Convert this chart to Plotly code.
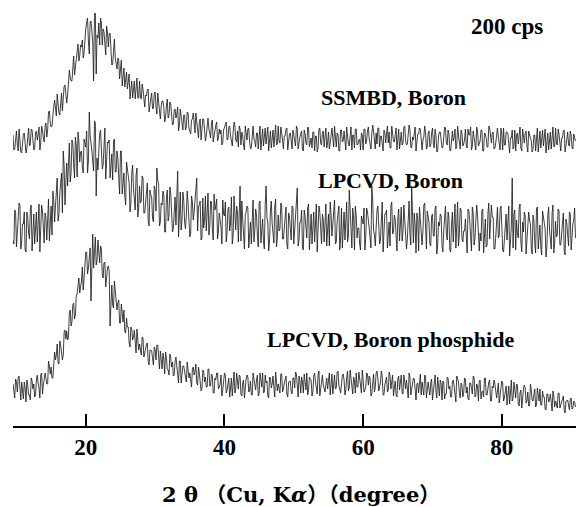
import numpy as np
import plotly.graph_objects as go

# 2-theta sampling (degrees)
TWO_THETA_START = 9.5
TWO_THETA_STEP = 0.125

# Intensities (arb. units, stacked display scale), one row per 5 degrees
ssmbd_boron = [
    291,276,277,292,295,281,275,297,287,274,273,287,292,293,286,273,278,291,298,280,282,297,296,286,276,278,293,295,286,291,299,276,283,300,296,288,284,300,303,289,
    296,314,315,303,299,300,315,319,326,317,310,332,321,313,311,329,333,315,326,340,341,332,323,331,347,356,348,345,345,364,370,351,360,371,376,382,365,370,381,379,
    386,368,373,392,398,403,408,385,372,404,405,395,384,345,412,413,352,391,388,403,381,408,403,381,397,394,379,371,400,393,379,392,393,372,361,362,379,387,368,364,
    357,368,366,347,357,366,340,348,358,339,350,354,337,346,352,327,337,345,328,338,345,327,339,348,328,328,345,329,327,342,337,323,319,331,330,336,337,314,322,329,
    333,317,318,332,334,319,312,333,323,309,307,320,325,325,318,304,308,320,327,308,310,324,322,311,301,302,316,317,308,312,319,295,301,317,311,302,296,311,311,296,
    299,314,313,298,293,292,306,307,313,301,293,313,302,291,288,304,307,286,295,307,307,295,285,290,303,308,297,291,288,303,306,284,291,298,301,304,285,288,297,292,
    296,281,283,296,299,301,304,286,287,299,300,290,282,280,293,304,301,286,284,295,279,300,297,281,294,291,281,276,300,295,286,297,298,284,277,278,293,300,287,285,
    279,293,293,277,289,300,276,286,297,280,292,298,282,292,299,275,286,295,278,289,296,279,291,301,281,282,300,285,283,299,294,281,277,290,290,297,298,276,284,292,
    293,280,277,296,291,284,280,300,297,277,285,289,292,295,276,275,296,292,283,281,299,298,279,286,288,278,294,294,275,290,290,274,278,297,298,283,281,293,295,279,
    290,298,278,283,294,277,283,293,298,288,279,300,288,279,293,292,275,275,296,296,284,285,295,280,276,299,289,282,280,295,299,276,291,291,278,297,297,281,282,286,
    287,276,293,291,276,297,297,282,285,295,299,287,280,277,292,301,295,284,277,293,282,298,298,279,290,290,279,275,296,294,283,296,300,283,294,278,278,300,291,285,
    284,292,298,276,290,297,277,290,294,281,283,299,300,285,281,282,291,301,296,279,278,289,286,295,299,275,282,292,292,298,297,280,276,286,289,300,293,277,279,293,
    295,279,281,293,298,283,278,297,290,274,275,290,294,294,288,278,279,286,299,298,283,281,296,292,276,275,292,295,285,289,297,277,280,300,291,284,277,296,293,280,
    282,286,297,281,278,297,291,291,299,276,280,295,289,282,276,299,295,280,284,285,296,296,275,275,293,292,288,279,279,300,298,288,283,293,294,277,278,283,290,298,
    289,283,276,298,292,276,298,281,281,294,294,292,277,273,288,288,296,277,280,296,275,291,293,282,290,299,278,275,297,285,283,293,295,280,274,295,291,289,285,274,
    277,291,291,275,287,298,274,284,295,278,290,296,280,290,297,273,284,293,276,287,294,277,289,299,279,280,298,283,281,297,292,279,275,288,288,295,296,274,282,290,
    294,281,280,295,291,279,277,292,289,285,
]

lpcvd_boron = [
    186,182,216,214,179,191,205,223,221,177,184,202,202,214,176,174,214,208,193,187,217,221,175,197,212,182,202,214,184,206,222,174,193,221,215,193,183,213,208,186,
    209,227,185,200,220,191,235,226,204,220,234,248,205,211,232,242,253,213,275,260,221,244,263,240,263,283,244,253,286,283,262,248,289,280,249,294,285,264,274,275,
    259,253,287,283,279,295,253,265,314,291,285,275,265,255,305,303,230,268,256,286,292,296,282,257,261,278,298,247,263,284,283,286,248,259,272,246,285,287,254,254,
    275,267,244,232,275,275,232,244,253,230,221,264,257,250,243,214,223,252,261,238,227,216,251,258,209,218,240,223,225,250,248,213,213,230,234,243,205,200,236,231,
    229,208,204,240,236,215,258,246,242,200,204,223,221,235,231,194,194,228,236,205,211,239,233,214,194,198,220,229,201,221,255,189,223,234,196,206,234,226,204,197,
    211,235,223,205,189,192,230,224,206,214,234,237,248,195,219,221,225,186,188,228,198,206,230,195,213,233,191,199,225,224,198,186,232,216,220,227,187,195,213,205,
    199,182,226,212,210,224,184,193,217,219,195,203,229,182,190,230,210,196,220,214,184,223,240,185,225,207,191,177,211,214,220,218,178,192,204,182,212,226,184,195,
    217,211,189,179,223,225,183,197,207,185,177,221,240,209,203,175,185,215,225,203,193,183,219,227,179,189,211,195,197,223,221,187,187,205,209,219,181,177,213,209,
    190,186,220,218,182,194,208,226,238,180,186,204,204,216,178,176,216,210,194,188,218,222,176,198,212,182,202,214,184,206,222,174,192,220,214,192,182,212,206,184,
    206,222,180,192,212,180,224,212,190,202,216,226,182,184,204,210,220,176,188,218,178,196,214,186,208,224,184,190,236,216,194,178,218,208,176,220,210,188,198,198,
    182,176,210,206,202,218,176,188,218,214,208,198,188,178,240,226,196,192,180,210,216,220,206,182,186,204,224,174,190,212,212,216,178,190,204,180,220,224,192,194,
    211,207,179,175,207,217,185,203,219,185,195,221,209,193,177,187,217,225,191,181,240,201,183,213,201,173,213,207,175,219,205,183,181,195,221,223,187,177,215,209,
    204,182,180,210,212,190,190,218,220,172,182,204,200,212,210,180,174,196,216,220,192,186,214,208,176,174,202,214,184,202,222,178,206,224,180,192,218,216,188,184,
    195,195,207,185,173,217,215,205,191,175,219,213,181,187,205,221,211,183,175,193,185,215,217,173,201,207,179,181,213,223,187,199,221,209,209,177,177,189,203,219,
    188,190,216,220,200,176,174,186,208,212,186,208,220,170,182,200,248,178,212,216,176,206,192,188,218,222,184,174,204,194,214,210,172,184,198,214,206,202,178,172,
    211,205,183,173,217,219,177,191,201,179,171,215,209,203,197,169,179,209,219,197,187,177,213,221,173,183,205,189,191,217,215,181,181,199,203,213,175,171,207,203,
    184,180,214,212,176,190,202,206,218,188,
]

lpcvd_boron_phosphide = [
    42,31,28,47,44,34,49,50,32,26,44,38,27,44,38,24,46,41,31,31,26,48,45,37,42,29,31,46,51,43,38,28,51,53,32,41,51,53,48,42,
    42,65,60,52,59,48,48,69,74,66,71,82,63,62,85,81,75,66,71,94,96,87,95,86,89,113,116,100,104,121,123,107,111,130,132,144,148,133,139,145,
    159,136,147,162,174,174,152,158,171,178,125,170,192,158,173,189,161,166,186,176,163,180,177,152,148,163,164,139,150,158,160,155,100,132,141,121,118,145,134,120,
    116,123,126,103,103,122,112,104,116,94,93,108,99,99,83,79,99,97,86,89,96,77,73,97,89,76,82,77,71,89,88,69,72,77,82,83,65,61,76,76,
    75,64,61,79,76,66,81,81,63,57,75,68,57,73,67,52,74,68,57,56,51,72,68,59,64,50,51,65,69,60,54,43,65,65,43,51,60,60,53,45,
    44,64,57,48,53,41,39,57,59,51,54,62,43,41,59,53,46,35,37,56,55,44,49,39,39,57,57,40,40,52,50,33,33,48,46,53,53,37,39,42,
    51,30,36,45,53,51,33,36,45,48,29,40,48,30,42,54,33,37,53,46,37,51,50,32,30,43,46,28,39,47,51,49,34,36,45,31,31,53,47,38,
    36,46,51,30,32,53,45,39,53,33,34,51,43,45,30,28,49,48,38,42,50,32,29,54,47,35,42,38,33,52,52,34,37,43,48,50,32,29,44,45,
    45,34,32,48,48,38,54,52,37,29,50,45,33,49,44,33,52,41,36,53,31,36,49,47,46,30,34,50,53,44,39,32,51,55,30,39,47,51,41,35,
    34,42,48,37,44,53,31,47,52,32,47,51,37,38,54,55,41,36,33,41,51,52,46,31,36,48,55,35,38,56,49,44,32,49,45,33,53,39,39,54,
    49,41,33,56,47,34,36,39,53,52,41,50,48,30,32,45,52,34,39,53,55,48,35,39,44,55,50,31,31,41,46,49,34,36,54,51,37,45,51,30,
    43,45,31,29,47,50,36,43,51,33,32,51,41,37,46,34,28,53,49,31,37,41,48,47,29,26,42,43,33,49,52,31,44,37,31,51,50,28,35,44,
    37,31,43,47,26,35,47,51,35,28,49,40,30,46,42,26,45,43,27,32,32,49,48,37,40,29,29,44,46,40,33,24,50,47,44,33,28,43,41,29,
    33,48,47,33,39,27,26,43,43,38,32,50,49,29,30,42,40,25,45,46,27,34,35,29,48,48,31,31,41,44,46,25,25,40,38,46,42,30,28,35,
    43,23,29,38,45,43,25,28,37,40,21,32,40,22,34,46,25,28,44,37,28,42,41,22,20,33,36,18,29,37,41,38,23,25,34,20,20,42,36,26,
    25,33,37,19,21,38,31,25,37,21,21,35,29,29,17,16,32,32,24,26,32,18,15,35,30,19,25,22,18,33,33,18,21,25,29,30,16,13,25,25,
    26,20,16,27,28,17,18,25,24,19,
]

series_names = ["SSMBD, Boron", "LPCVD, Boron", "LPCVD, Boron phosphide"]
tick_values = [20, 40, 60, 80]
tick_labels = ["20", "40", "60", "80"]
scale_label = "200 cps"
x_title = "2 θ （Cu, K<i>α</i>）（degree）"

FONT = "Liberation Serif, Times New Roman, Noto Sans CJK JP, serif"
TITLE_FONT = "DejaVu Serif, Noto Sans CJK JP, serif"

fig = go.Figure()
for name, vals in zip(series_names, [ssmbd_boron, lpcvd_boron, lpcvd_boron_phosphide]):
    x = TWO_THETA_START + TWO_THETA_STEP * np.arange(len(vals))
    fig.add_trace(go.Scatter(x=x, y=vals, mode="lines", name=name,
                             line=dict(color="#1e1e1e", width=0.85)))

# label positions in paper coordinates
label_pos = [(0.675, 0.772), (0.671, 0.577), (0.671, 0.204)]
for name, (px, py) in zip(series_names, label_pos):
    fig.add_annotation(text=name, xref="paper", yref="paper", x=px, y=py,
                       showarrow=False, xanchor="center", yanchor="middle",
                       font=dict(family=FONT, size=22, color="black", weight="bold"))
fig.add_annotation(text=scale_label, xref="paper", yref="paper", x=0.877, y=0.937,
                   showarrow=False, xanchor="center", yanchor="middle",
                   font=dict(family=FONT, size=23, color="black", weight="bold"))
fig.add_annotation(text=x_title, xref="paper", yref="paper", x=0.511, y=-0.160,
                   showarrow=False, xanchor="center", yanchor="middle",
                   font=dict(family=TITLE_FONT, size=21, color="black", weight="bold"))

fig.update_layout(
    width=576, height=507,
    margin=dict(l=13, r=0, t=0, b=81),
    paper_bgcolor="white", plot_bgcolor="white",
    showlegend=False,
    xaxis=dict(range=[9.5, 90.7], tickvals=tick_values, ticktext=tick_labels,
               ticks="inside", ticklen=12, tickwidth=1.5, tickcolor="black",
               showline=True, linecolor="black", linewidth=1.5,
               showgrid=False, zeroline=False,
               tickfont=dict(family=FONT, size=23, color="black", weight="bold")),
    yaxis=dict(range=[0, 426], visible=False, showgrid=False, zeroline=False),
)

fig.write_html("out.html", config={"displayModeBar": False},
               post_script="document.body.style.margin='0';document.body.style.overflow='hidden';")
